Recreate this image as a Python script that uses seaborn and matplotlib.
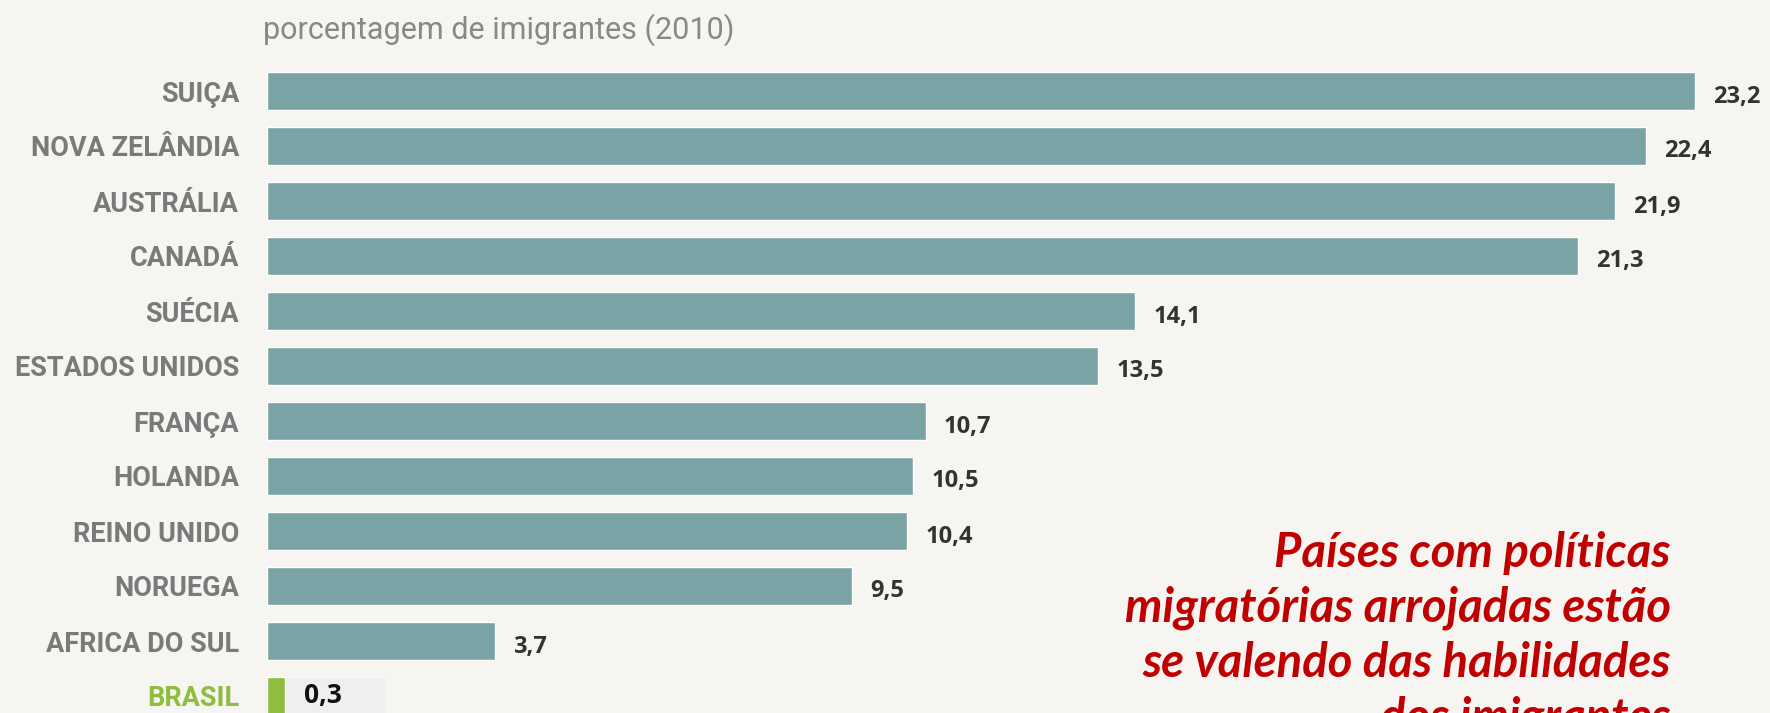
import numpy as np
import pandas as pd
import matplotlib
matplotlib.use('Agg')
import matplotlib.pyplot as plt
from matplotlib.patches import Rectangle
import seaborn as sns

# data
paises = ['SUIÇA', 'NOVA ZELÂNDIA', 'AUSTRÁLIA', 'CANADÁ', 'SUÉCIA', 'ESTADOS UNIDOS',
          'FRANÇA', 'HOLANDA', 'REINO UNIDO', 'NORUEGA', 'AFRICA DO SUL', 'BRASIL']
percentual = [23.2, 22.4, 21.9, 21.3, 14.1, 13.5, 10.7, 10.5, 10.4, 9.5, 3.7, 0.3]
titulo = 'porcentagem de imigrantes (2010)'
nota = ['Países com políticas', 'migratórias arrojadas estão',
        'se valendo das habilidades', 'dos imigrantes']

BG = '#f7f5f1'
TEAL = '#7aa3a5'
GREEN = '#8fbd3f'

df = pd.DataFrame({'pais': paises, 'valor': percentual})
cores = [GREEN if p == 'BRASIL' else TEAL for p in paises]

sns.set_theme(style='white')
fig = plt.figure(figsize=(17.7, 7.13), dpi=100, facecolor=BG)
W, H = 1770, 713
x0 = 267          # pixel where bars start
px_per_unit = 61.55
ax = fig.add_axes([x0 / W, 0, 1 - x0 / W, 1])
ax.set_facecolor(BG)

sns.barplot(data=df, x='valor', y='pais', hue='pais', palette=cores,
            legend=False, width=0.68, ax=ax, saturation=1)

# map category rows to pixel rows (centre of first bar at 91px, 55px step)
y_top = (0 - 91) / 55
y_bot = (H - 91) / 55
ax.set_ylim(y_bot, y_top)
ax.set_xlim(0, (W - x0) / px_per_unit)

for s in ax.spines.values():
    s.set_visible(False)
ax.set_xticks([])
ax.set_xlabel('')
ax.set_ylabel('')
ax.tick_params(axis='y', length=0, pad=20)
for lbl in ax.get_yticklabels():
    lbl.set_fontfamily('Roboto')
    lbl.set_fontweight('bold')
    lbl.set_fontsize(19.5)
    lbl.set_color(GREEN if lbl.get_text() == 'BRASIL' else '#7a7a7a')

# light box behind the Brazil value
ax.add_patch(Rectangle((285 / W, 0), 101 / W, 34 / H, transform=fig.transFigure,
                       fc='#efefef', ec='none', zorder=0.5, clip_on=False))

# value labels
for i, (p, v) in enumerate(zip(paises, percentual)):
    txt = f'{v:.1f}'.replace('.', ',')
    if p == 'BRASIL':
        ax.text(v + 0.3, i + 0.0, txt, va='center', ha='left', zorder=5,
                fontsize=19, fontweight='bold', color='#111111', family='Open Sans')
    else:
        ax.text(v + 0.3, i + 0.1, txt, va='center', ha='left',
                fontsize=17, fontweight='bold', color='#333333', family='Open Sans')

fig.text(263 / W, 1 - 30 / H, titulo, ha='left', va='center',
         fontsize=22, color='#888888', family='Roboto')

for k, linha in enumerate(nota):
    fig.text(1671 / W, 1 - (553 + k * 55) / H, linha, ha='right', va='center',
             fontsize=34, color='#c00000', fontweight='bold', fontstyle='italic',
             family='Lato')

fig.savefig('out.png', dpi=100, facecolor=BG)
